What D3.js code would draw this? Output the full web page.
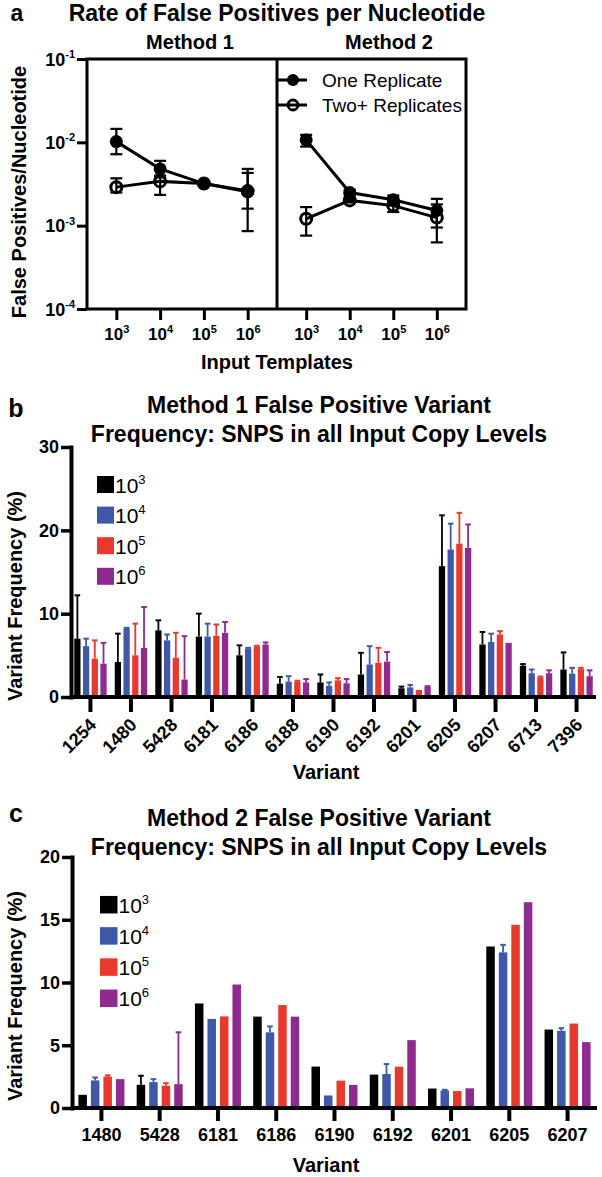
<!DOCTYPE html>
<html><head><meta charset="utf-8">
<script src="https://cdn.jsdelivr.net/npm/d3@7"></script>
<style>
body{margin:0;background:#fff}
svg{display:block}
text{font-family:"Liberation Sans",Arial,Helvetica,sans-serif;fill:#000}
</style>
</head><body>
<svg id="chart" width="602" height="1177"></svg>
<script>
// ---------------- DATA ----------------
// Panel a: x = input templates (exponent of 10)
const templateExps = ["3", "4", "5", "6"];
const m1One   = [0.0102, 0.0048, 0.0032, 0.00255];
const m1OneLo = [0.0072, 0.0040, 0.0030, 0.00086];
const m1OneHi = [0.0145, 0.0060, 0.0034, 0.0048];
const m1Two   = [0.0029, 0.0034, 0.0032, 0.0026];
const m1TwoLo = [0.0025, 0.00234, 0.0030, 0.0016];
const m1TwoHi = [0.0037, 0.0038, 0.0034, 0.0043];
const m2One   = [0.0107, 0.0025, 0.00205, 0.00152];
const m2OneLo = [0.0089, 0.0023, 0.0019, 0.00095];
const m2OneHi = [0.0123, 0.0027, 0.0023, 0.0021];
const m2Two   = [0.00121, 0.00201, 0.00174, 0.00125];
const m2TwoLo = [0.00076, 0.0019, 0.00146, 0.00063];
const m2TwoHi = [0.00167, 0.0021, 0.00204, 0.0018];
const logTicksA = [1e-4, 1e-3, 1e-2, 1e-1];

// Series (input copy levels)
const levelExps = ["3", "4", "5", "6"];

// Panel b
const variantsB = ["1254","1480","5428","6181","6186","6188","6190","6192","6201","6205","6207","6713","7396"];
const b1e3    = [7.0, 4.2, 8.0, 7.25, 5.0, 1.6, 1.75, 2.7, 1.05, 15.7, 6.3, 3.75, 3.3];
const b1e3Err = [12.2, 7.6, 9.2, 10.0, 6.2, 2.4, 2.7, 5.3, 1.25, 21.8, 7.8, 3.95, 5.35];
const b1e4    = [6.1, 8.25, 6.8, 7.25, 5.8, 1.85, 1.35, 3.9, 1.15, 17.7, 6.6, 2.85, 2.8];
const b1e4Err = [7.0, 8.3, 7.5, 8.8, 5.9, 2.5, 1.75, 6.1, 1.45, 20.8, 7.6, 3.3, 3.5];
const b1e5    = [4.6, 5.0, 4.7, 7.35, 6.05, 1.85, 2.0, 4.1, 0.85, 18.4, 7.5, 2.35, 3.35];
const b1e5Err = [6.8, 8.8, 7.7, 8.7, 6.15, 1.95, 2.25, 5.9, null, 22.1, 7.9, 2.45, 3.5];
const b1e6    = [4.0, 5.9, 2.1, 7.7, 6.3, 1.75, 1.65, 4.25, 1.25, 17.9, 6.5, 2.85, 2.5];
const b1e6Err = [6.5, 10.8, 7.3, 9.0, 6.55, 2.15, 2.15, 5.4, 1.3, 20.7, null, 3.2, 3.2];
const yTicksB = [0, 10, 20, 30];

// Panel c
const variantsC = ["1480","5428","6181","6186","6190","6192","6201","6205","6207"];
const c1e3    = [1.05, 1.85, 8.33, 7.28, 3.3, 2.66, 1.55, 12.87, 6.25];
const c1e3Err = [null, 2.57, null, null, null, null, null, null, null];
const c1e4    = [2.2, 2.06, 7.1, 6.03, 1.0, 2.71, 1.4, 12.4, 6.15];
const c1e4Err = [2.43, 2.3, null, 6.5, null, 3.5, 1.45, 13.0, 6.36];
const c1e5    = [2.5, 1.77, 7.3, 8.2, 2.18, 3.29, 1.35, 14.6, 6.73];
const c1e5Err = [2.6, 1.98, null, null, null, null, null, null, null];
const c1e6    = [2.3, 1.9, 9.84, 7.28, 1.84, 5.41, 1.57, 16.4, 5.25];
const c1e6Err = [null, 6.03, null, null, null, null, null, null, null];
const yTicksC = [0, 5, 10, 15, 20];

const colors = ["#000000", "#3f58a8", "#e8392c", "#8f2a8f"];

// ---------------- DRAW ----------------
const svg = d3.select("#chart");

function supText(g, x, y, base, sup, size, supSize, anchor, weight) {
  const t = g.append("text").attr("x", x).attr("y", y)
    .attr("font-size", size).attr("font-weight", weight).attr("text-anchor", anchor);
  t.append("tspan").text(base);
  t.append("tspan").attr("dy", -size * 0.42).attr("font-size", supSize).text(sup);
  return t;
}

// ===== Panel a =====
const A = {l: 87, mid: 277, r: 466, t: 59, b: 309};
const yA = d3.scaleLog().domain([1e-4, 1e-1]).range([A.b, A.t]);
const xA1 = d3.scalePoint().domain(templateExps).range([A.l, A.mid]).padding(0.67);
const xA2 = d3.scalePoint().domain(templateExps).range([A.mid, A.r]).padding(0.67);

svg.append("text").attr("x", 17).attr("y", 21).attr("font-size", 23).attr("font-weight", "bold")
  .attr("text-anchor", "middle").text("a");
svg.append("text").attr("x", 277).attr("y", 21).attr("font-size", 23).attr("font-weight", "bold")
  .attr("text-anchor", "middle").text("Rate of False Positives per Nucleotide");
svg.append("text").attr("x", 190).attr("y", 49).attr("font-size", 20).attr("font-weight", "bold")
  .attr("text-anchor", "middle").text("Method 1");
svg.append("text").attr("x", 389).attr("y", 49).attr("font-size", 20).attr("font-weight", "bold")
  .attr("text-anchor", "middle").text("Method 2");
svg.append("text").attr("transform", `translate(26,${(A.t + A.b) / 2 + 8}) rotate(-90)`)
  .attr("font-size", 20).attr("font-weight", "bold").attr("text-anchor", "middle")
  .text("False Positives/Nucleotide");

// y axis
const yAxisA = svg.append("g").attr("transform", `translate(${A.l},0)`)
  .call(d3.axisLeft(yA).tickValues(logTicksA).tickSize(10).tickSizeOuter(0).tickPadding(2).tickFormat(""));
yAxisA.select(".domain").remove();
yAxisA.selectAll(".tick line").attr("stroke-width", 3);
yAxisA.selectAll(".tick").each(function(d) {
  const g = d3.select(this);
  supText(g, -12, 6, "10", String(Math.round(Math.log10(d))), 18, 11, "end", "bold");
});

// x axes
[xA1, xA2].forEach(xs => {
  const ax = svg.append("g").attr("transform", `translate(0,${A.b})`)
    .call(d3.axisBottom(xs).tickSize(11).tickSizeOuter(0).tickFormat(""));
  ax.select(".domain").remove();
  ax.selectAll(".tick line").attr("stroke-width", 3);
  ax.selectAll(".tick").each(function(d) {
    supText(d3.select(this), 0, 31, "10", d, 17, 11, "middle", "bold");
  });
});
svg.append("text").attr("x", 277).attr("y", 369).attr("font-size", 20).attr("font-weight", "bold")
  .attr("text-anchor", "middle").text("Input Templates");

// box
svg.append("rect").attr("x", A.l).attr("y", A.t).attr("width", A.r - A.l).attr("height", A.b - A.t)
  .attr("fill", "none").attr("stroke", "#000").attr("stroke-width", 3);
svg.append("line").attr("x1", A.mid).attr("x2", A.mid).attr("y1", A.t).attr("y2", A.b)
  .attr("stroke", "#000").attr("stroke-width", 3);

function drawSeries(xs, vals, lo, hi, filled) {
  const g = svg.append("g");
  const pts = templateExps.map((e, i) => ({x: xs(e), v: vals[i], lo: lo[i], hi: hi[i]}));
  g.selectAll("line.err").data(pts).enter().append("line")
    .attr("x1", d => d.x).attr("x2", d => d.x).attr("y1", d => yA(d.lo)).attr("y2", d => yA(d.hi))
    .attr("stroke", "#000").attr("stroke-width", 2.2);
  ["lo", "hi"].forEach(k => {
    g.selectAll("line.cap" + k).data(pts).enter().append("line")
      .attr("x1", d => d.x - 6).attr("x2", d => d.x + 6).attr("y1", d => yA(d[k])).attr("y2", d => yA(d[k]))
      .attr("stroke", "#000").attr("stroke-width", 2.2);
  });
  g.append("path").datum(pts)
    .attr("d", d3.line().x(d => d.x).y(d => yA(d.v)))
    .attr("fill", "none").attr("stroke", "#000").attr("stroke-width", 3);
  g.selectAll("circle").data(pts).enter().append("circle")
    .attr("cx", d => d.x).attr("cy", d => yA(d.v)).attr("r", filled ? 6.5 : 5.5)
    .attr("fill", filled ? "#000" : "none").attr("stroke", "#000").attr("stroke-width", filled ? 0 : 3);
}
drawSeries(xA1, m1Two, m1TwoLo, m1TwoHi, false);
drawSeries(xA1, m1One, m1OneLo, m1OneHi, true);
drawSeries(xA2, m2Two, m2TwoLo, m2TwoHi, false);
drawSeries(xA2, m2One, m2OneLo, m2OneHi, true);

// legend a
const legA = [{label: "One Replicate", filled: true, y: 80}, {label: "Two+ Replicates", filled: false, y: 105}];
legA.forEach(d => {
  svg.append("line").attr("x1", A.mid).attr("x2", 307).attr("y1", d.y).attr("y2", d.y)
    .attr("stroke", "#000").attr("stroke-width", 3);
  svg.append("circle").attr("cx", 293).attr("cy", d.y).attr("r", d.filled ? 6 : 5)
    .attr("fill", d.filled ? "#000" : "none").attr("stroke", "#000").attr("stroke-width", d.filled ? 0 : 2.8);
  svg.append("text").attr("x", 322).attr("y", d.y + 7).attr("font-size", 19).text(d.label);
});

// ===== Bar panels =====
function barPanel(cfg) {
  const {variants, series, errs, yDomain, yTicks, x0, x1, yTop, yBot, pI, pO, innerP,
         titleY, letterY, letter, title1, title2, rotate, legX, legY, legStep, legSize, yLabelY} = cfg;
  const x = d3.scaleBand().domain(variants).range([x0, x1]).paddingInner(pI).paddingOuter(pO);
  const xi = d3.scaleBand().domain(levelExps).range([0, x.bandwidth()]).paddingInner(innerP).paddingOuter(0);
  const y = d3.scaleLinear().domain(yDomain).range([yBot, yTop]);

  svg.append("text").attr("x", 16).attr("y", letterY).attr("font-size", 25).attr("font-weight", "bold")
    .attr("text-anchor", "middle").text(letter);
  svg.append("text").attr("x", 319).attr("y", titleY).attr("font-size", 23).attr("font-weight", "bold")
    .attr("text-anchor", "middle").text(title1);
  svg.append("text").attr("x", 319).attr("y", titleY + 29).attr("font-size", 23).attr("font-weight", "bold")
    .attr("text-anchor", "middle").text(title2);

  // bars
  series.forEach((vals, si) => {
    const g = svg.append("g");
    const data = variants.map((v, i) => ({v, val: vals[i], err: errs[si][i]}));
    g.selectAll("rect").data(data).enter().append("rect")
      .attr("x", d => x(d.v) + xi(levelExps[si])).attr("width", xi.bandwidth())
      .attr("y", d => y(d.val)).attr("height", d => yBot - y(d.val))
      .attr("fill", colors[si]);
    const ed = data.filter(d => d.err != null);
    g.selectAll("line.e").data(ed).enter().append("line")
      .attr("x1", d => x(d.v) + xi(levelExps[si]) + xi.bandwidth() / 2)
      .attr("x2", d => x(d.v) + xi(levelExps[si]) + xi.bandwidth() / 2)
      .attr("y1", d => y(d.val)).attr("y2", d => y(d.err))
      .attr("stroke", colors[si]).attr("stroke-width", 1.8);
    g.selectAll("line.c").data(ed).enter().append("line")
      .attr("x1", d => x(d.v) + xi(levelExps[si]) + xi.bandwidth() / 2 - 2.8)
      .attr("x2", d => x(d.v) + xi(levelExps[si]) + xi.bandwidth() / 2 + 2.8)
      .attr("y1", d => y(d.err)).attr("y2", d => y(d.err))
      .attr("stroke", colors[si]).attr("stroke-width", 2);
  });

  // y axis
  const ya = svg.append("g").attr("transform", `translate(${x0},0)`)
    .call(d3.axisLeft(y).tickValues(yTicks).tickSize(10).tickSizeOuter(0).tickPadding(2));
  ya.select(".domain").attr("stroke-width", 4).attr("stroke-linecap", "square");
  ya.selectAll(".tick line").attr("stroke-width", 3.5);
  ya.selectAll(".tick text").attr("font-size", 18).attr("font-weight", "bold")
    .attr("font-family", "'Liberation Sans',Arial,sans-serif").attr("fill", "#000");

  // x axis
  const xa = svg.append("g").attr("transform", `translate(0,${yBot})`)
    .call(d3.axisBottom(x).tickSize(rotate ? 15 : 13).tickSizeOuter(0).tickPadding(4));
  xa.select(".domain").attr("stroke-width", 4).attr("d", `M${x0},0H${x1}`);
  xa.selectAll(".tick line").attr("stroke-width", 4);
  const tt = xa.selectAll(".tick text").attr("font-size", 18).attr("font-weight", "bold")
    .attr("font-family", "'Liberation Sans',Arial,sans-serif").attr("fill", "#000");
  if (rotate) {
    tt.attr("text-anchor", "end").attr("dy", null).attr("y", null)
      .attr("transform", "translate(7,29) rotate(-45)");
  } else {
    tt.attr("dy", null).attr("y", 33);
  }
  svg.append("text").attr("x", 326).attr("y", cfg.xLabelY).attr("font-size", 20).attr("font-weight", "bold")
    .attr("text-anchor", "middle").text("Variant");
  svg.append("text").attr("transform", `translate(22,${yLabelY}) rotate(-90)`)
    .attr("font-size", 20).attr("font-weight", "bold").attr("text-anchor", "middle")
    .text("Variant Frequency (%)");

  // legend
  levelExps.forEach((e, i) => {
    const cy = legY + i * legStep;
    svg.append("rect").attr("x", legX).attr("y", cy - legSize / 2).attr("width", legSize).attr("height", legSize)
      .attr("fill", colors[i]);
    supText(svg, legX + legSize + 1, cy + 8, "10", e, 21, 13, "start", "normal");
  });
}

barPanel({
  variants: variantsB, series: [b1e3, b1e4, b1e5, b1e6], errs: [b1e3Err, b1e4Err, b1e5Err, b1e6Err],
  yDomain: [0, 30], yTicks: yTicksB, x0: 71, x1: 596, yTop: 447, yBot: 697,
  pI: 0.2, pO: 0.08, innerP: 0.28, titleY: 413, letterY: 417, letter: "b",
  title1: "Method 1 False Positive Variant", title2: "Frequency: SNPS in all Input Copy Levels",
  rotate: true, legX: 97, legY: 484.5, legStep: 30.6, legSize: 17, yLabelY: 596, xLabelY: 779
});

barPanel({
  variants: variantsC, series: [c1e3, c1e4, c1e5, c1e6], errs: [c1e3Err, c1e4Err, c1e5Err, c1e6Err],
  yDomain: [0, 20], yTicks: yTicksC, x0: 72, x1: 597, yTop: 857, yBot: 1108,
  pI: 0.21, pO: 0.11, innerP: 0.32, titleY: 826, letterY: 822, letter: "c",
  title1: "Method 2 False Positive Variant", title2: "Frequency: SNPS in all Input Copy Levels",
  rotate: false, legX: 100, legY: 904.7, legStep: 31.2, legSize: 17.5, yLabelY: 996, xLabelY: 1172
});
</script>
</body></html>
